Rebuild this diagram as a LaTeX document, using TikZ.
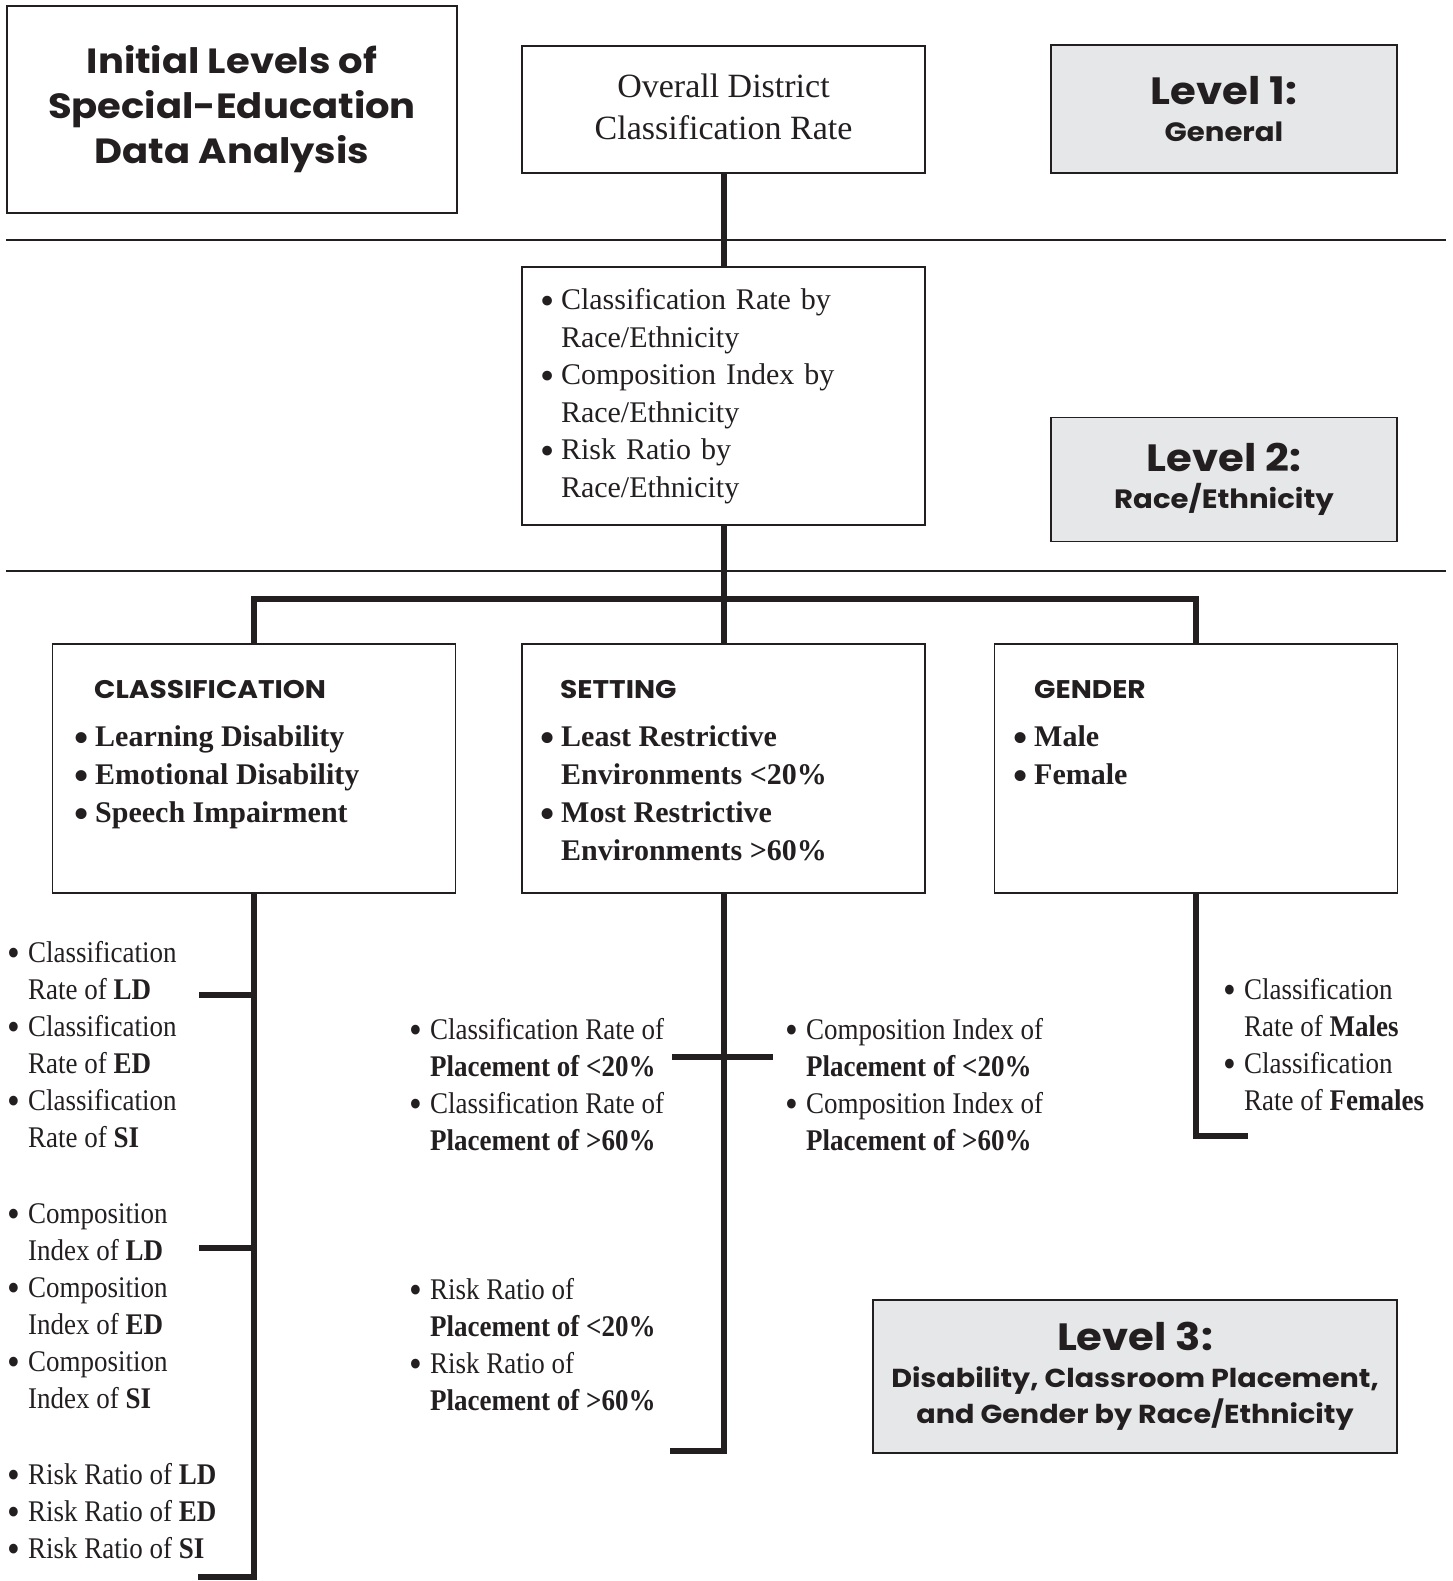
\documentclass[tikz,border=0pt]{standalone}
\usepackage{fontspec}
\setmainfont{Liberation Serif}
\newfontfamily\narrowserif{Liberation Serif}[FakeStretch=0.9]
\newfontfamily\headsans{Poppins}[FakeStretch=1.1]
\usetikzlibrary{positioning,calc}
\definecolor{ink}{HTML}{231F20}
\definecolor{panel}{HTML}{E6E7E8}
\newcommand{\itm}{\makebox[20pt][l]{\hspace*{-1pt}\raisebox{-4.5pt}{\scalebox{1.35}{\textbullet}}}}
\newcommand{\cont}{\hspace*{20pt}}

\begin{document}
\begin{tikzpicture}[x=1pt, y=-1pt, line join=miter, color=ink,
  box/.style={draw=ink, line width=1.5pt, inner sep=0pt},
  levelbox/.style={box, fill=panel, align=center, font=\headsans\bfseries\fontsize{26.5}{37}\selectfont},
  head/.style={inner sep=0pt, anchor=base west, font=\headsans\bfseries\fontsize{25.5}{30}\selectfont},
  blist/.style={inner sep=0pt, anchor=north west, align=left, font=\bfseries\fontsize{30}{38}\selectfont},
  slist/.style={inner sep=0pt, anchor=north west, align=left, font=\narrowserif\fontsize{30}{37}\selectfont},
  link/.style={line width=6pt},
  rule/.style={line width=2pt}]
\useasboundingbox (0,0) rectangle (1452,1581);

% level 1
\node[box, minimum width=450, minimum height=207, align=center,
  font=\headsans\bfseries\fontsize{35}{45}\selectfont] (title) at (232,109.5)
  {Initial Levels of\\Special-Education\\Data Analysis};
\node[box, minimum width=403, minimum height=127, align=center,
  font=\fontsize{34}{42}\selectfont] (overall) at (723.5,109.5)
  {Overall District\\Classification Rate\rule[-6pt]{0pt}{6pt}};
\node[levelbox, minimum width=346, minimum height=128] (lvl1) at (1224,109)
  {{\fontsize{38}{42}\selectfont Level 1:}\\General};
\draw[rule] (6,240) -- (1446,240);

% level 2
\node[box, minimum width=403, minimum height=258, text width=365pt, inner xsep=19pt,
  align=left, font=\fontsize{30}{37.5}\selectfont] (race) at (723.5,396)
  {\itm Classification Rate by\\ \cont Race/Ethnicity\\
   \itm Composition Index by\\ \cont Race/Ethnicity\\
   \itm Risk Ratio by\\ \cont Race/Ethnicity};
\node[levelbox, minimum width=346, minimum height=124] (lvl2) at (1224,479.5)
  {{\fontsize{38}{42}\selectfont Level 2:}\\Race/Ethnicity};
\draw[rule] (6,571) -- (1446,571);

% level 3 boxes
\node[box, minimum width=403, minimum height=249] (cls) at (254,768.5) {};
\node[box, minimum width=403, minimum height=249] (set) at (723.5,768.5) {};
\node[box, minimum width=403, minimum height=249] (gen) at (1196,768.5) {};
\node[head] (clshead) at (94,698) {CLASSIFICATION};
\node[head] (sethead) at (560,698) {SETTING};
\node[head] (genhead) at (1034,698) {GENDER};
\node[blist] (clsitems) at (75,720)
  {\strut\itm Learning Disability\\ \itm Emotional Disability\\ \itm Speech Impairment};
\node[blist] (setitems) at (541,720)
  {\strut\itm Least Restrictive\\ \cont Environments <20\%\\
   \itm Most Restrictive\\ \cont Environments >60\%};
\node[blist] (genitems) at (1014,720) {\strut\itm Male\\ \itm Female};

% measures
\node[slist] (clsrates) at (8,936)
  {\strut\itm Classification\\ \cont Rate of \textbf{LD}\\
   \itm Classification\\ \cont Rate of \textbf{ED}\\
   \itm Classification\\ \cont Rate of \textbf{SI}};
\node[slist] (clscomp) at (8,1197)
  {\strut\itm Composition\\ \cont Index of \textbf{LD}\\
   \itm Composition\\ \cont Index of \textbf{ED}\\
   \itm Composition\\ \cont Index of \textbf{SI}};
\node[slist] (clsrisk) at (8,1458)
  {\strut\itm Risk Ratio of \textbf{LD}\\ \itm Risk Ratio of \textbf{ED}\\
   \itm Risk Ratio of \textbf{SI}};
\node[slist] (setrates) at (410,1013)
  {\strut\itm Classification Rate of\\ \cont\textbf{Placement of <20\%}\\
   \itm Classification Rate of\\ \cont\textbf{Placement of >60\%}};
\node[slist] (setcomp) at (786,1013)
  {\strut\itm Composition Index of\\ \cont\textbf{Placement of <20\%}\\
   \itm Composition Index of\\ \cont\textbf{Placement of >60\%}};
\node[slist] (setrisk) at (410,1273)
  {\strut\itm Risk Ratio of\\ \cont\textbf{Placement of <20\%}\\
   \itm Risk Ratio of\\ \cont\textbf{Placement of >60\%}};
\node[slist] (genrates) at (1224,973)
  {\strut\itm Classification\\ \cont Rate of \textbf{Males}\\
   \itm Classification\\ \cont Rate of \textbf{Females}};
\node[levelbox, minimum width=524, minimum height=153,
  font=\headsans\bfseries\fontsize{26}{36.5}\selectfont] (lvl3) at (1135,1376.5)
  {{\fontsize{38}{42}\selectfont Level 3:}\\Disability, Classroom Placement,\\and Gender by Race/Ethnicity};

% connectors
\coordinate (split) at (723.5,599);
\draw[link] (overall.south) -- (race.north);
\draw[link] (race.south) -- (set.north);
\draw[link] (cls.north) |- (split) -| (gen.north);

\coordinate (clsend) at (198,1577);
\coordinate (ldtick) at (199,995);
\coordinate (citick) at (199,1248);
\draw[link] (cls.south) |- (clsend);
\draw[link] (ldtick) -- (ldtick -| cls.south);
\draw[link] (citick) -- (citick -| cls.south);

\coordinate (setend) at (670,1451);
\coordinate (crossl) at (672,1057);
\coordinate (crossr) at (773,1057);
\draw[link] (set.south) |- (setend);
\draw[link] (crossl) -- (crossr);

\coordinate (genend) at (1248,1136);
\draw[link] (gen.south) |- (genend);
\end{tikzpicture}
\end{document}
